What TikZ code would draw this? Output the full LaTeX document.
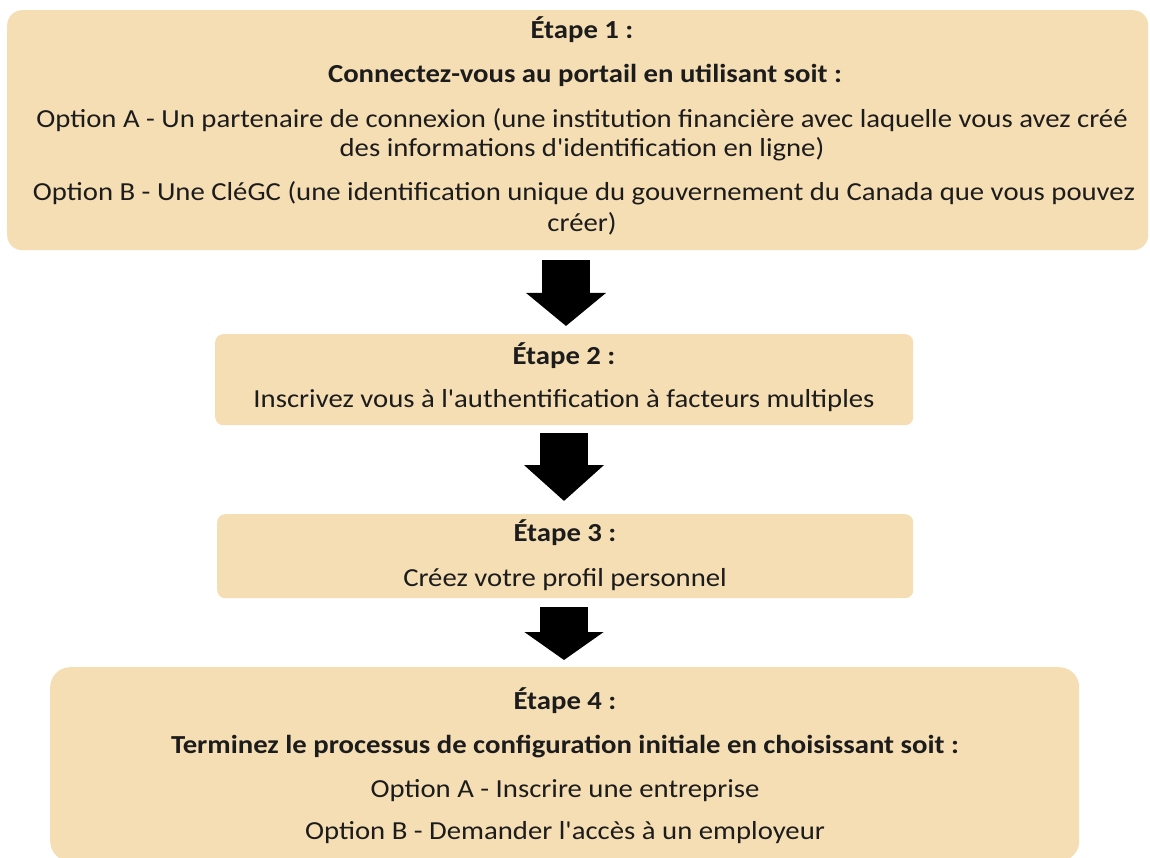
\documentclass[tikz,border=0pt]{standalone}
\usepackage{fontspec}
\setmainfont{Carlito}[Ligatures=TeXOff, FakeStretch=1.105]
\usetikzlibrary{arrows.meta}
\definecolor{boxfill}{RGB}{245,222,179}
\definecolor{txt}{RGB}{28,28,28}
\begin{document}
\begin{tikzpicture}[x=1pt,y=-1pt,
  stepbox/.style={fill=boxfill, draw=none, inner sep=0pt, anchor=north west},
  lbl/.style={anchor=base, font=\fontsize{26}{30}\selectfont, text=txt, inner sep=0pt},
  bl/.style={anchor=base, font=\fontsize{26}{30}\selectfont\bfseries, text=txt, inner sep=0pt},
  bigarrow/.style={draw=black, line width=48pt, -{Triangle[length=#1,width=78pt]}}]
\useasboundingbox (0,0) rectangle (1150,858);
% boxes
\node[stepbox, rounded corners=15pt, minimum width=1141pt, minimum height=240pt] (s1) at (7,10) {};
\node[stepbox, rounded corners=8pt, minimum width=698pt, minimum height=91pt] (s2) at (215,334) {};
\node[stepbox, rounded corners=8pt, minimum width=696pt, minimum height=84pt] (s3) at (217,514) {};
\node[stepbox, rounded corners=20pt, minimum width=1029pt, minimum height=194pt] (s4) at (50,667) {};
% texts box 1
\node[bl]  (t1a) at (582,39)  {Étape 1 :};
\node[bl]  (t1b) at (585,83)  {Connectez-vous au portail en utilisant soit :};
\node[lbl] (t1c) at (582,128) {Option A - Un partenaire de connexion (une institution financière avec laquelle vous avez créé};
\node[lbl] (t1d) at (582,157) {des informations d'identification en ligne)};
\node[lbl] (t1e) at (584,201) {Option B - Une CléGC (une identification unique du gouvernement du Canada que vous pouvez};
\node[lbl] (t1f) at (582,232) {créer)};
% texts box 2
\node[bl]  (t2a) at (564,364) {Étape 2 :};
\node[lbl] (t2b) at (564,407) {Inscrivez vous à l'authentification à facteurs multiples};
% texts box 3
\node[bl]  (t3a) at (565,541) {Étape 3 :};
\node[lbl] (t3b) at (565,586) {Créez votre profil personnel};
% texts box 4
\node[bl]  (t4a) at (565,709) {Étape 4 :};
\node[bl]  (t4b) at (565,753) {Terminez le processus de configuration initiale en choisissant soit :};
\node[lbl] (t4c) at (565,797) {Option A - Inscrire une entreprise};
\node[lbl] (t4d) at (565,839) {Option B - Demander l'accès à un employeur};
% connectors
\coordinate (a1s) at ([yshift=-10pt]s1.south -| 566,0);
\coordinate (a1e) at ([yshift=8pt]s2.north -| 566,0);
\coordinate (a2s) at ([yshift=-8pt]s2.south -| 564,0);
\coordinate (a2e) at ([yshift=13pt]s3.north -| 564,0);
\coordinate (a3s) at ([yshift=-9pt]s3.south -| 564,0);
\coordinate (a3e) at ([yshift=7pt]s4.north -| 564,0);
\draw[bigarrow=33pt] (a1s) -- (a1e);
\draw[bigarrow=36pt] (a2s) -- (a2e);
\draw[bigarrow=28pt] (a3s) -- (a3e);
\end{tikzpicture}
\end{document}
